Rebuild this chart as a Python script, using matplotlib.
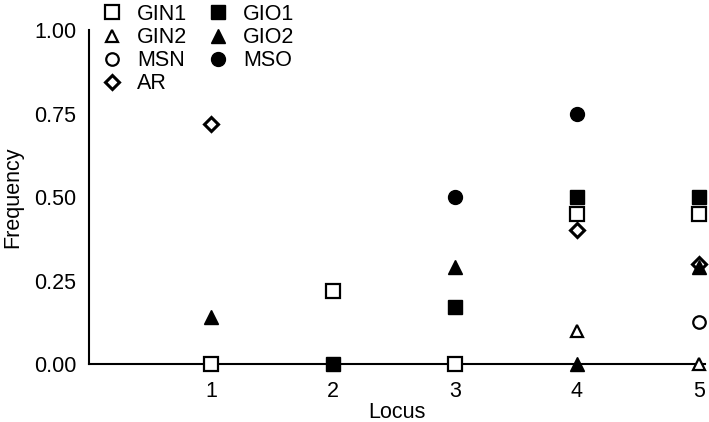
import matplotlib.pyplot as plt
import numpy as np

plt.rcParams['font.family'] = ['Liberation Sans', 'DejaVu Sans']

# Frequency per locus (nan = no point shown)
loci = [1, 2, 3, 4, 5]
nan = np.nan
gin1 = [0.00, 0.22, 0.00, 0.45, 0.45]
gin2 = [nan, nan, nan, 0.10, 0.00]
msn = [nan, nan, nan, nan, 0.125]
ar = [0.72, nan, nan, 0.40, 0.30]
gio1 = [nan, 0.00, 0.17, 0.50, 0.50]
gio2 = [0.14, nan, 0.29, 0.00, 0.29]
mso = [nan, nan, 0.50, 0.75, nan]

fs = 15.5
fig = plt.figure(figsize=(7.09, 4.22), dpi=100)
ax = fig.add_axes([0.1255, 0.1374, 0.8685, 0.7915])

# open markers
ax.plot(loci, gin1, 's', ms=10, mfc='white', mec='black', mew=1.6, ls='none', label='GIN1', clip_on=False, zorder=3)
ax.plot(loci, gin2, '^', ms=9, mfc='white', mec='black', mew=1.6, ls='none', label='GIN2', clip_on=False, zorder=3)
ax.plot(loci, msn, 'o', ms=9, mfc='white', mec='black', mew=1.6, ls='none', label='MSN', clip_on=False, zorder=3)
ax.plot(loci, ar, 'D', ms=7, mfc='white', mec='black', mew=2.2, ls='none', label='AR', clip_on=False, zorder=3)
# filled markers
ax.plot(loci, gio1, 's', ms=10, color='black', ls='none', label='GIO1', clip_on=False, zorder=4)
ax.plot(loci, gio2, '^', ms=10, color='black', ls='none', label='GIO2', clip_on=False, zorder=4)
ax.plot(loci, mso, 'o', ms=10, color='black', ls='none', label='MSO', clip_on=False, zorder=4)

ax.set_xlim(0, 5.05)
ax.set_ylim(0, 1.0)
ax.set_xticks(loci)
ax.set_yticks([0, 0.25, 0.5, 0.75, 1.0])
ax.set_yticklabels(['0.00', '0.25', '0.50', '0.75', '1.00'])
ax.tick_params(axis='y', length=0, labelsize=fs, pad=9)
ax.tick_params(axis='x', length=0, labelsize=fs, pad=12)
for s in ['top', 'right']:
    ax.spines[s].set_visible(False)
for s in ['left', 'bottom']:
    ax.spines[s].set_linewidth(1.5)

ax.set_xlabel('Locus', fontsize=fs, labelpad=0)
ax.set_ylabel('Frequency', fontsize=fs, labelpad=8)

fig.legend(*ax.get_legend_handles_labels(), ncol=2, loc='upper left',
           bbox_to_anchor=(99 / 709, 1 - 4 / 422), bbox_transform=fig.transFigure,
           frameon=False, fontsize=fs, handletextpad=0.56, columnspacing=0.84,
           labelspacing=0.1, borderaxespad=0, borderpad=0, handlelength=1.2)

fig.savefig('out.png', dpi=100)
